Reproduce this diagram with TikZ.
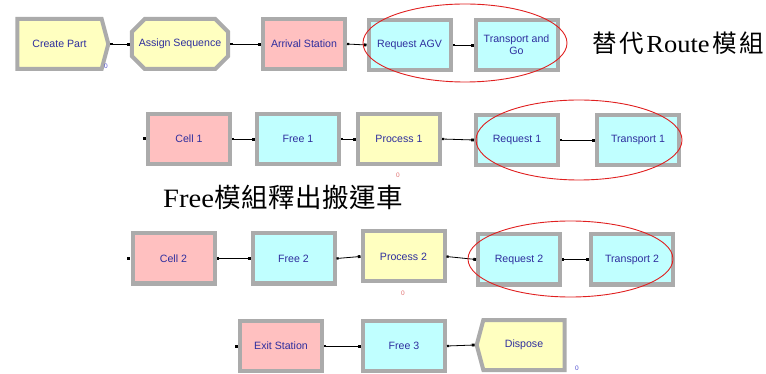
\documentclass[tikz,border=0pt]{standalone}
\usepackage{fontspec}
\setmainfont[FakeStretch=1.08]{Liberation Serif}
\newfontfamily\arial{Liberation Sans}
\newfontfamily\cjk{Noto Sans CJK TC}
\usetikzlibrary{shapes.symbols,shapes.misc,arrows.meta}
\definecolor{yel}{HTML}{FFFFC0}
\definecolor{pnk}{HTML}{FFC0C0}
\definecolor{cyn}{HTML}{C0FFFF}
\definecolor{bev}{HTML}{ABABAB}
\definecolor{bevd}{HTML}{808080}
\definecolor{txt}{HTML}{2E2E9E}
\definecolor{ovl}{HTML}{E02020}
\definecolor{zblue}{HTML}{5050D0}
\definecolor{zred}{HTML}{E07070}
\newcommand{\cs}{\hspace{2.6pt}}
\newcommand{\csb}{\hspace{0.5pt}}
\begin{document}
\begin{tikzpicture}[x=1pt,y=-1pt,
  mod/.style={draw=bev, line width=4pt, minimum width=82pt, minimum height=50pt,
    inner sep=1pt, text=txt, font=\arial\fontsize{10.6}{12}\selectfont, align=center},
  rectmod/.style={mod, rectangle,
    append after command={[draw=bevd, line width=1.6pt]
      ([shift={(1.5pt,0.8pt)}]\tikzlastnode.south west) --
      ([shift={(-0.8pt,0.8pt)}]\tikzlastnode.south east) --
      ([shift={(-0.8pt,-1.5pt)}]\tikzlastnode.north east)}},
  conn/.style={draw=black, line width=0.8pt,
    {Square[length=2.2pt,width=2.2pt]}-{Square[length=2.8pt,width=2.8pt]}},
  entry/.style={fill=black, minimum size=3pt, inner sep=0pt, anchor=east},
  zero/.style={font=\arial\fontsize{6.5}{6.5}\selectfont, inner sep=0pt},
  oval/.style={draw=ovl, line width=0.9pt},
  note/.style={anchor=west, inner sep=0pt}
]
\useasboundingbox (0,0) rectangle (766,374);

% Row 1
\node[mod, signal, signal to=east, signal pointer angle=150, fill=yel,
  minimum width=91pt] (cp) at (59.5,44) {Create Part};
\node[mod, chamfered rectangle, chamfered rectangle xsep=7pt,
  chamfered rectangle ysep=7pt, fill=yel, minimum width=84pt] (as) at (180,44) {Assign Sequence};
\node[rectmod, fill=pnk] (ar) at (304,44) {Arrival Station};
\node[rectmod, fill=cyn] (ra) at (409.5,45) {Request AGV};
\node[rectmod, fill=cyn] (tg) at (516.5,45) {Transport and\\Go};
\node[zero, text=zblue] (z1) at (106,66) {0};

\draw[conn] (cp.east) -- (as.west);
\draw[conn] (as.east) -- (ar.west);
\draw[conn] (ar.east) -- (ra.west);
\draw[conn] (ra.east) -- (tg.west);

\draw[oval] (465,43) ellipse [x radius=102, y radius=39];
\node[note, font=\fontsize{24.5}{28}\selectfont] (n1) at (592,43)
  {{\cjk 替\cs 代\cs}Route{\cjk\cs 模\cs 組}};

% Row 2
\node[rectmod, fill=pnk] (c1) at (189,139) {Cell 1};
\node[rectmod, fill=cyn] (f1) at (298,139) {Free 1};
\node[rectmod, fill=yel] (p1) at (399,139) {Process 1};
\node[rectmod, fill=cyn] (r1) at (517,140) {Request 1};
\node[rectmod, fill=cyn] (t1) at (638,140) {Transport 1};
\node[entry] (c1in) at (c1.west) {};
\node[zero, text=zred] (z2) at (398,175) {0};

\draw[conn] (c1.east) -- (f1.west);
\draw[conn] (f1.east) -- (p1.west);
\draw[conn] (p1.east) -- (r1.west);
\draw[conn] (r1.east) -- (t1.west);

\draw[oval] (579,140) ellipse [x radius=103, y radius=40];
\node[note, font=\fontsize{26.5}{30}\selectfont] (n2) at (163,197)
  {Free{\cjk\csb 模\csb 組\csb 釋\csb 出\csb 搬\csb 運\csb 車}};

% Row 3
\node[rectmod, fill=pnk] (c2) at (173.5,258.5) {Cell 2};
\node[rectmod, fill=cyn] (f2) at (293.5,258.5) {Free 2};
\node[rectmod, fill=yel] (p2) at (403.5,256.5) {Process 2};
\node[rectmod, fill=cyn] (r2) at (519,259.5) {Request 2};
\node[rectmod, fill=cyn] (t2) at (632,259.5) {Transport 2};
\node[entry] (c2in) at (c2.west) {};
\node[zero, text=zred] (z3) at (403,293) {0};

\draw[conn] (c2.east) -- (f2.west);
\draw[conn] (f2.east) -- (p2.west);
\draw[conn] (p2.east) -- (r2.west);
\draw[conn] (r2.east) -- (t2.west);

\draw[oval] (570.5,259) ellipse [x radius=102.5, y radius=38];

% Row 4
\node[rectmod, fill=pnk] (ex) at (281,346) {Exit Station};
\node[rectmod, fill=cyn] (f3) at (404,346) {Free 3};
\node[mod, signal, signal to=west, signal pointer angle=150, fill=yel,
  minimum width=88pt] (dp) at (524,345) {Dispose};
\node[entry] (exin) at (ex.west) {};
\node[zero, text=zblue] (z4) at (577,368) {0};

\draw[conn] (ex.east) -- (f3.west);
\draw[conn] (f3.east) -- (dp.west);
\end{tikzpicture}
\end{document}
